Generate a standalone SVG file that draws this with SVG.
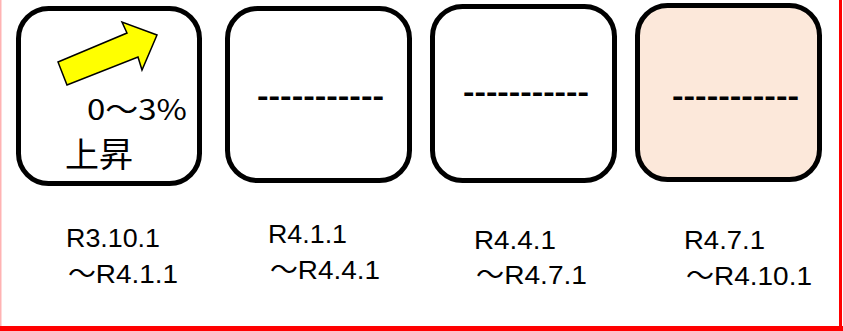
<svg xmlns="http://www.w3.org/2000/svg" width="843" height="331" viewBox="0 0 843 331">
  <style>
    .box { stroke: #000; stroke-width: 5; }
    .dash { font-family: "Liberation Sans", sans-serif; font-size: 30px; font-weight: bold; fill: #000; }
    .lbl { font-family: "Liberation Sans", "Noto Sans CJK JP", sans-serif; font-size: 26px; fill: #000; }
    .big { font-family: "Noto Sans CJK JP", "Liberation Sans", sans-serif; fill: #000; }
  </style>
  <rect x="0" y="0" width="843" height="331" fill="#fff"/>
  <g id="frame">
    <rect x="0" y="0" width="1.5" height="331" fill="#ffb3b3"/>
    <rect x="839" y="0" width="3" height="331" fill="#ff0000"/>
    <rect x="0" y="326" width="843" height="5" fill="#ff0000"/>
  </g>
  <g id="node1">
    <rect class="box" x="18.5" y="8.5" width="181" height="175" rx="30" fill="#fff"/>
    <polygon points="58,62 127,33 122,22 157,35 142,70 138,57 67,85" fill="#ffff00" stroke="#000" stroke-width="1.5" stroke-linejoin="miter"/>
    <text class="big" x="87" y="120" font-size="28" textLength="100" lengthAdjust="spacingAndGlyphs">0～3%</text>
    <text class="big" x="65" y="167" font-size="34">上昇</text>
  </g>
  <g id="node2">
    <rect class="box" x="227.5" y="8.5" width="182" height="172" rx="30" fill="#fff"/>
    <text class="dash" x="257" y="106" textLength="127" lengthAdjust="spacingAndGlyphs">-----------</text>
  </g>
  <g id="node3">
    <rect class="box" x="432.5" y="6.5" width="182" height="174" rx="30" fill="#fff"/>
    <text class="dash" x="463" y="102" textLength="126" lengthAdjust="spacingAndGlyphs">-----------</text>
  </g>
  <g id="node4">
    <rect class="box" x="637.5" y="5.5" width="182" height="174" rx="30" fill="#fce8da"/>
    <text class="dash" x="672" y="106" textLength="127" lengthAdjust="spacingAndGlyphs">-----------</text>
  </g>
  <g id="labels">
    <text class="lbl" x="66" y="247" textLength="94" lengthAdjust="spacingAndGlyphs">R3.10.1</text>
    <text class="lbl" x="68" y="283" textLength="110" lengthAdjust="spacingAndGlyphs">～R4.1.1</text>
    <text class="lbl" x="268" y="243" textLength="79" lengthAdjust="spacingAndGlyphs">R4.1.1</text>
    <text class="lbl" x="270" y="279" textLength="110" lengthAdjust="spacingAndGlyphs">～R4.4.1</text>
    <text class="lbl" x="474" y="249" textLength="82" lengthAdjust="spacingAndGlyphs">R4.4.1</text>
    <text class="lbl" x="476" y="284" textLength="111" lengthAdjust="spacingAndGlyphs">～R4.7.1</text>
    <text class="lbl" x="684" y="249" textLength="81" lengthAdjust="spacingAndGlyphs">R4.7.1</text>
    <text class="lbl" x="686" y="285" textLength="126" lengthAdjust="spacingAndGlyphs">～R4.10.1</text>
  </g>
</svg>
